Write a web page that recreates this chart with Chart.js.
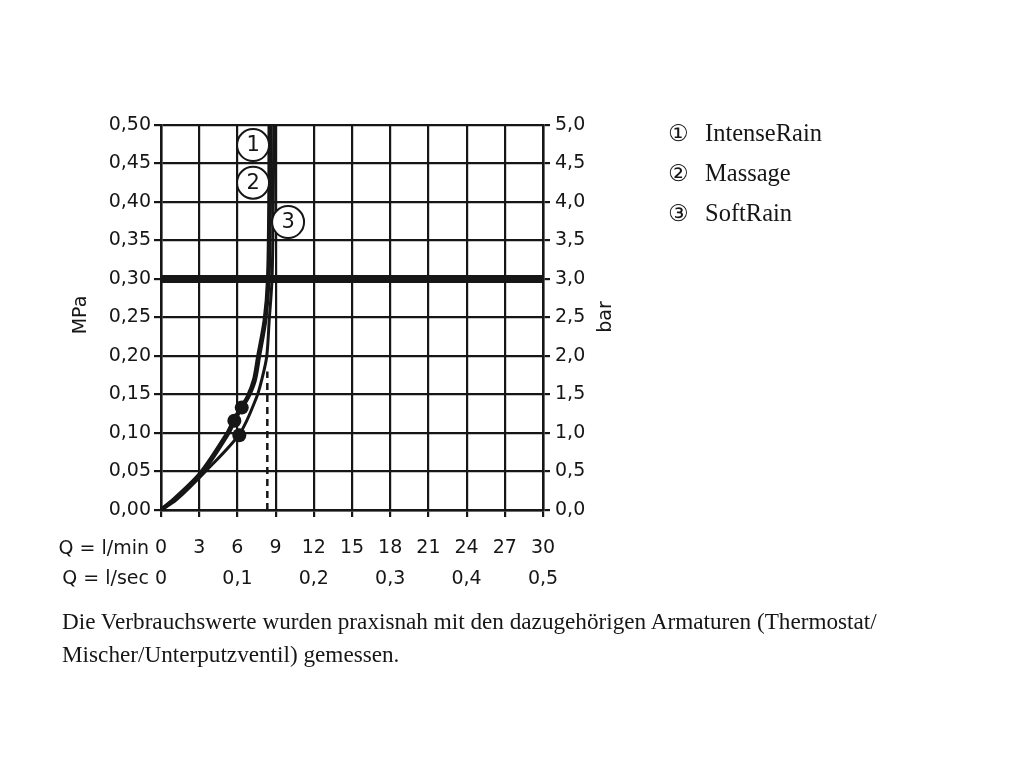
<!DOCTYPE html>
<html>
<head>
<meta charset="utf-8">
<script src="https://cdn.jsdelivr.net/npm/chart.js@4.4.1/dist/chart.umd.min.js"></script>
<style>
  html, body { margin: 0; padding: 0; background: #fff; }
  #wrap { position: relative; width: 1024px; height: 768px; }
  #wrap canvas { position: absolute; left: 0; top: 0; }
  .leg { position: absolute; left: 668px; top: 113px; font-family: "Liberation Serif"; font-size: 24.5px; line-height: 39px; color: #161616; }
  .leg span { font-family: "DejaVu Sans"; font-size: 23px; display: inline-block; width: 37px; }
  .note { position: absolute; left: 62px; top: 605px; font-family: "Liberation Serif"; font-size: 23.2px; line-height: 33px; color: #161616; white-space: nowrap; }
</style>
</head>
<body>
<div id="wrap">
  <canvas id="chart" width="1024" height="768"></canvas>
  <div class="leg">
    <div><span>①</span>IntenseRain</div>
    <div><span>②</span>Massage</div>
    <div><span>③</span>SoftRain</div>
  </div>
  <div class="note">Die Verbrauchswerte wurden praxisnah mit den dazugehörigen Armaturen (Thermostat/<br>Mischer/Unterputzventil) gemessen.</div>
</div>
<script>
// flow in l/min, pressure in MPa
const qIntense = [0, 1.2, 3.2, 5.29, 5.76, 6.34, 6.86, 7.38, 7.7, 8.2, 8.45, 8.56, 8.58];
const pIntense = [0, 0.016, 0.048, 0.0996, 0.116, 0.133, 0.147, 0.169, 0.199, 0.247, 0.30, 0.40, 0.50];
const qMassage = [0, 1.15, 3.1, 5.2, 5.7, 6.28, 6.8, 7.3, 7.62, 8.14, 8.4, 8.5, 8.52];
const pMassage = [0, 0.016, 0.048, 0.0996, 0.116, 0.133, 0.147, 0.169, 0.199, 0.247, 0.30, 0.40, 0.50];
const qSoft = [0, 1.2, 3.6, 6.2, 7.52, 7.91, 8.3, 8.5, 8.72, 8.82, 8.85];
const pSoft = [0, 0.013, 0.052, 0.0996, 0.147, 0.169, 0.199, 0.247, 0.30, 0.40, 0.50];

// operating points (filled dots)
const markerQ = [6.34, 5.76, 6.15];
const markerP = [0.133, 0.116, 0.097];

// numbered badges
const badgeText = ['1', '2', '3'];
const badgeQ = [7.23, 7.23, 9.98];
const badgeP = [0.474, 0.425, 0.374];

// reference lines
const refPressure = 0.30;
const dashQ = 8.35;
const dashTopP = 0.18;

const ink = '#161616';
const pts = (xs, ys) => xs.map((v, i) => ({x: v, y: ys[i]}));
const comma = (v, d) => v.toFixed(d).replace('.', ',');

const textPlugin = {
  id: 'texts',
  afterDatasetsDraw(chart){
    const ctx = chart.ctx;
    const {x, x2} = chart.scales;
    ctx.save();
    ctx.fillStyle = ink;
    // badge numbers
    ctx.font = '21px "DejaVu Sans"';
    ctx.textAlign = 'center';
    ctx.textBaseline = 'middle';
    chart.getDatasetMeta(0).data.forEach((el, i)=> ctx.fillText(badgeText[i], el.x, el.y + 1));
    // row titles for the two flow scales
    ctx.font = '19px "DejaVu Sans"';
    ctx.textAlign = 'right';
    ctx.fillText('Q = l/min', x.left - 12, x.top + 39);
    ctx.fillText('Q = l/sec', x.left - 12, x2.top + 19);
    // axis titles
    ctx.textAlign = 'center';
    ctx.translate(81, 315); ctx.rotate(-Math.PI/2); ctx.fillText('MPa', 0, 0);
    ctx.setTransform(1,0,0,1,0,0);
    ctx.translate(606, 317); ctx.rotate(-Math.PI/2); ctx.fillText('bar', 0, 0);
    ctx.restore();
  }
};

const tickFont = {family: 'DejaVu Sans', size: 19};

new Chart(document.getElementById('chart'), {
  type: 'line',
  data: {
    datasets: [
      {label: 'badges', data: pts(badgeQ, badgeP), showLine: false, pointRadius: 16,
       pointBackgroundColor: '#fff', pointBorderColor: ink, pointBorderWidth: 2, order: 0},
      {label: 'points', data: pts(markerQ, markerP), showLine: false, pointRadius: 7,
       pointBackgroundColor: ink, pointBorderWidth: 0, order: 1},
      {label: 'IntenseRain', data: pts(qIntense, pIntense), borderColor: ink, borderWidth: 4,
       pointRadius: 0, tension: 0.3, order: 2},
      {label: 'Massage', data: pts(qMassage, pMassage), borderColor: ink, borderWidth: 4,
       pointRadius: 0, tension: 0.3, order: 2},
      {label: 'SoftRain', data: pts(qSoft, pSoft), borderColor: ink, borderWidth: 3,
       pointRadius: 0, tension: 0.3, order: 2},
      {label: 'ref', data: pts([0, 30], [refPressure, refPressure]), borderColor: ink, borderWidth: 8,
       pointRadius: 0, order: 3, clip: false},
      {label: 'dash', data: pts([dashQ, dashQ], [0, dashTopP]), borderColor: ink, borderWidth: 2.5,
       borderDash: [7, 5], pointRadius: 0, order: 3}
    ]
  },
  options: {
    responsive: false,
    animation: false,
    layout: {padding: {top: 125, bottom: 0, left: 0, right: 0}},
    plugins: {legend: {display: false}, tooltip: {enabled: false}},
    scales: {
      x: {
        type: 'linear', position: 'bottom', min: 0, max: 30,
        ticks: {stepSize: 3, autoSkip: false, maxRotation: 0, padding: 20, color: ink, font: tickFont},
        grid: {color: ink, lineWidth: 2.2, tickLength: 7},
        border: {color: ink, width: 2.5},
        afterFit: s => { s.height = 50; }
      },
      x2: {
        type: 'linear', position: 'bottom', min: 0, max: 0.5,
        ticks: {stepSize: 0.1, autoSkip: false, maxRotation: 0, padding: 0, color: ink, font: tickFont,
                callback: v => v === 0 ? '0' : comma(v, 1)},
        grid: {display: false},
        border: {display: false},
        afterFit: s => { s.height = 208; }
      },
      y: {
        type: 'linear', position: 'left', min: 0, max: 0.5,
        ticks: {stepSize: 0.05, autoSkip: false, padding: 3, color: ink, font: tickFont,
                callback: v => comma(v, 2)},
        grid: {color: ink, lineWidth: 2.2, tickLength: 7},
        border: {color: ink, width: 2.5},
        afterFit: s => { s.width = 161; }
      },
      y2: {
        type: 'linear', position: 'right', min: 0, max: 5,
        ticks: {stepSize: 0.5, autoSkip: false, padding: 5, color: ink, font: tickFont,
                callback: v => comma(v, 1)},
        grid: {drawOnChartArea: false, color: ink, lineWidth: 2.2, tickLength: 7},
        border: {color: ink, width: 2.5},
        afterFit: s => { s.width = 481; }
      }
    }
  },
  plugins: [textPlugin]
});
</script>
</body>
</html>
